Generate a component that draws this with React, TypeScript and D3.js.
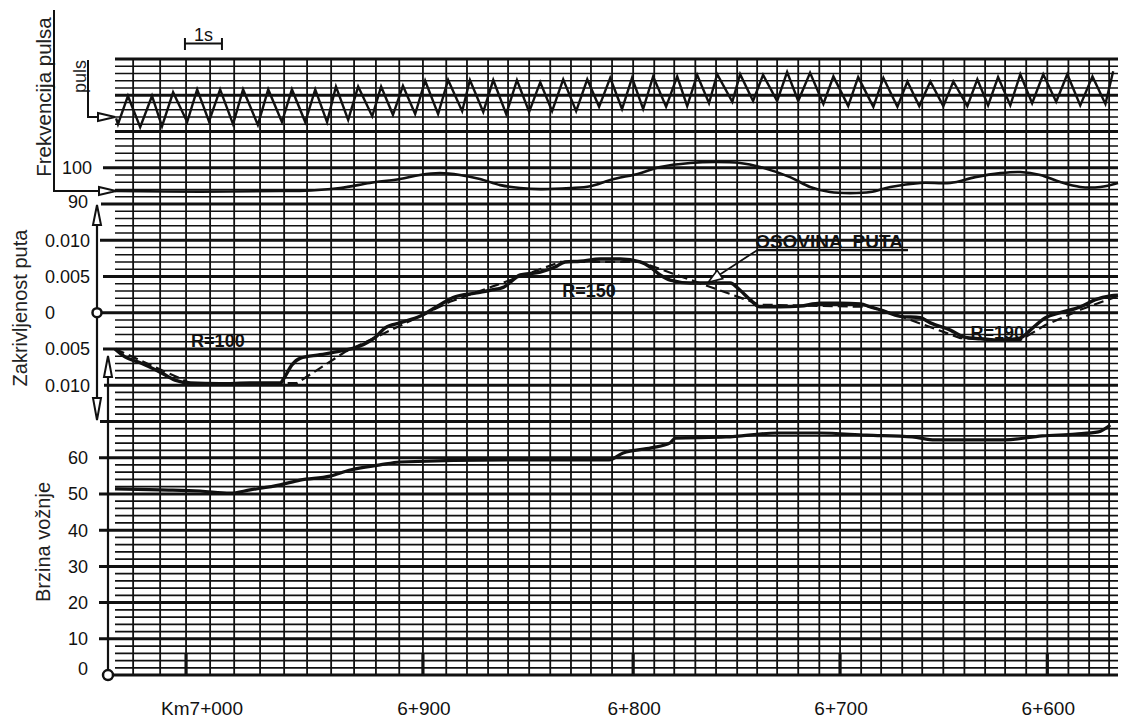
import React from 'react';
import * as d3 from 'd3';

// time (s) at which each 10 m distance mark was passed
const markTimes = [0.49, 1.22, 1.92, 2.57, 3.22, 3.92, 4.57, 5.19, 5.84, 6.46, 7.05, 7.68, 8.32, 8.95, 9.51, 10.08, 10.62, 11.19, 11.76, 12.32, 12.86, 13.43, 14.0, 14.57, 15.11, 15.68, 16.24, 16.81, 17.35, 17.89, 18.46, 19.03, 19.59, 20.16, 20.7, 21.27, 21.81, 22.38, 22.95, 23.51, 24.05, 24.62, 25.19, 25.76, 26.32, 26.86];
const kmLabels = ['Km7+000', '6+900', '6+800', '6+700', '6+600'];
const kmMarkIndex = [2, 12, 22, 32, 42];

// pulse trace (arbitrary deflection units)
const pulseT = [0.03, 0.08, 0.35, 0.68, 1.0, 1.27, 1.57, 1.95, 2.22, 2.54, 2.84, 3.19, 3.46, 3.86, 4.14, 4.51, 4.78, 5.14, 5.41, 5.73, 5.97, 6.3, 6.57, 6.95, 7.19, 7.51, 7.78, 8.11, 8.38, 8.73, 9.0, 9.38, 9.59, 9.95, 10.22, 10.57, 10.86, 11.19, 11.49, 11.81, 12.11, 12.46, 12.76, 13.08, 13.38, 13.7, 13.97, 14.27, 14.54, 14.89, 15.19, 15.46, 15.73, 16.05, 16.27, 16.68, 16.89, 17.24, 17.51, 17.89, 18.16, 18.46, 18.78, 19.14, 19.41, 19.81, 20.08, 20.49, 20.76, 21.14, 21.41, 21.73, 22.03, 22.38, 22.65, 23.03, 23.3, 23.59, 23.86, 24.19, 24.46, 24.78, 25.08, 25.43, 25.73, 26.08, 26.41, 26.76, 26.97];
const pulseV = [1.8, 1.0, 4.9, 0.6, 4.9, 0.7, 5.4, 1.3, 5.8, 1.4, 5.8, 1.0, 5.8, 0.9, 5.8, 1.3, 5.8, 1.3, 5.8, 1.3, 6.2, 1.6, 6.2, 2.1, 6.2, 2.3, 6.3, 2.4, 7.0, 2.4, 7.1, 2.8, 7.1, 2.7, 7.1, 2.4, 7.1, 2.7, 6.8, 2.8, 7.2, 2.8, 7.2, 3.4, 7.4, 3.1, 7.4, 3.1, 7.6, 3.4, 7.6, 3.5, 7.8, 3.9, 7.9, 4.1, 7.9, 4.2, 7.8, 4.2, 8.2, 4.2, 8.1, 3.8, 7.6, 3.5, 7.5, 3.4, 7.4, 3.4, 6.9, 3.5, 6.9, 3.5, 6.9, 3.5, 7.2, 3.6, 7.5, 3.6, 7.9, 3.9, 7.9, 4.1, 7.9, 3.6, 7.6, 3.8, 8.3];

// heart rate (beats/min)
const hrT = [0, 2.3, 4.46, 5.0, 6.08, 6.89, 7.7, 8.24, 8.78, 9.32, 9.86, 10.41, 10.95, 11.49, 12.3, 12.84, 13.38, 14.19, 14.73, 15.54, 16.22, 16.89, 17.43, 18.24, 18.78, 19.32, 19.86, 20.41, 20.95, 21.76, 22.57, 23.24, 23.92, 24.46, 25.0, 25.54, 26.08, 26.62, 27.1];
const hrV = [93.6, 93.4, 93.6, 93.6, 94.4, 95.8, 96.9, 98.0, 98.5, 98.0, 96.9, 95.2, 94.4, 94.1, 94.4, 94.9, 96.6, 98.5, 100.2, 101.3, 101.6, 101.3, 100.2, 97.4, 94.7, 93.3, 93.0, 93.3, 94.7, 95.8, 95.8, 97.4, 98.5, 98.8, 98.0, 96.05, 94.7, 94.7, 95.8];

// measured road curvature (1/m)
const curvMeasT = [0, 0.27, 0.68, 1.22, 1.62, 2.03, 2.84, 3.65, 4.46, 4.57, 4.78, 5.0, 5.54, 6.08, 6.62, 7.03, 7.3, 7.7, 8.24, 8.78, 9.19, 9.73, 10.14, 10.49, 10.95, 11.49, 11.89, 12.16, 12.57, 13.11, 13.65, 14.19, 14.46, 14.73, 15.0, 15.54, 16.08, 16.62, 16.89, 17.16, 17.43, 17.97, 18.51, 19.05, 19.59, 20.14, 20.41, 20.68, 21.22, 21.76, 22.03, 22.57, 22.97, 23.38, 23.92, 24.46, 24.73, 25.14, 25.54, 26.08, 26.49, 26.89, 27.1];
const curvMeasV = [-0.005, -0.0061, -0.0069, -0.0082, -0.0093, -0.0097, -0.0098, -0.0097, -0.0097, -0.009, -0.0072, -0.0063, -0.0058, -0.0053, -0.0046, -0.0034, -0.0021, -0.0014, -0.0005, 0.0011, 0.0022, 0.0027, 0.0031, 0.0035, 0.0052, 0.0056, 0.0063, 0.007, 0.0071, 0.0074, 0.0074, 0.007, 0.0063, 0.0052, 0.0045, 0.0041, 0.0041, 0.0041, 0.0031, 0.0018, 0.0008, 0.0008, 0.0009, 0.0013, 0.0013, 0.0012, 0.0008, 0.0004, -0.0005, -0.0007, -0.0014, -0.0024, -0.0034, -0.0036, -0.0038, -0.0035, -0.0024, -0.0007, 0.0, 0.0008, 0.0018, 0.0023, 0.0024];

// design curvature of the road axis (OSOVINA PUTA)
const curvAxisT = [0, 2.03, 4.92, 6.22, 7.7, 9.05, 10.41, 12.03, 14.19, 17.43, 20.41, 21.22, 22.84, 24.46, 25.14, 26.08, 27.1];
const curvAxisV = [-0.005, -0.0097, -0.0097, -0.0054, -0.0018, 0.0015, 0.004, 0.007, 0.007, 0.0011, 0.0008, -0.0005, -0.0035, -0.0038, -0.0017, 0.0004, 0.0023];

// driving speed (km/h)
const speedT = [0, 1.22, 2.3, 3.11, 3.65, 4.46, 5.0, 5.81, 6.35, 7.16, 7.7, 10.59, 13.35, 13.73, 14.49, 15.0, 15.14, 16.51, 17.89, 19.03, 20.3, 21.54, 22.16, 24.05, 25.05, 25.95, 26.57, 26.89];
const speedV = [51.4, 51.1, 50.8, 50.2, 51.1, 52.5, 53.8, 54.9, 56.6, 58.0, 58.8, 59.4, 59.4, 61.3, 62.7, 64.1, 65.4, 65.7, 66.8, 66.8, 66.2, 65.7, 64.9, 64.9, 66.0, 66.5, 67.1, 69.0];

const hrTicks = [100, 90];
const curvTicks = [0.01, 0.005, 0, -0.005, -0.01];
const curvTickLabels = ['0.010', '0.005', '0', '0.005', '0.010'];
const speedTicks = [60, 50, 40, 30, 20, 10, 0];

const curveNotes = [
  { text: 'R=100', t: 2.78, c: -0.0038 },
  { text: 'R=150', t: 12.81, c: 0.0031 },
  { text: 'R=190', t: 23.84, c: -0.0027 },
];

const FONT = '"Liberation Sans", Arial, Helvetica, sans-serif';
const INK = '#111';

export default function App() {
  const W = 1130;
  const H = 722;
  const x = d3.scaleLinear().domain([0, 27.1]).range([115, 1118]);
  const gy = d3.scaleLinear().domain([0, 85]).range([59, 675.1]);
  const pulseY = d3.scaleLinear().domain([0, 10]).range([gy(10), gy(0)]);
  const hrY = d3.scaleLinear().domain([90, 100]).range([gy(20), gy(15)]);
  const cY = d3.scaleLinear().domain([-0.01, 0.01]).range([gy(45), gy(25)]);
  const sY = d3.scaleLinear().domain([0, 70]).range([gy(85), gy(50)]);

  const leftExt: Record<number, number> = { 15: 103, 20: 101, 25: 100, 30: 103, 35: 97, 40: 103, 45: 104, 50: 100, 55: 99, 60: 99, 65: 99, 70: 99, 75: 99, 80: 99, 85: 108 };

  const pulsePath = d3.line<number>().x((_, i) => x(pulseT[i])).y((v) => pulseY(v))(pulseV) || '';
  const hrPath = d3.line<number>().x((_, i) => x(hrT[i])).y((v) => hrY(v)).curve(d3.curveCatmullRom)(hrV) || '';
  const cMeasPath = d3.line<number>().x((_, i) => x(curvMeasT[i])).y((v) => cY(v)).curve(d3.curveMonotoneX)(curvMeasV) || '';
  const cAxisPath = d3.line<number>().x((_, i) => x(curvAxisT[i])).y((v) => cY(v))(curvAxisV) || '';
  const speedPath = d3.line<number>().x((_, i) => x(speedT[i])).y((v) => sY(v)).curve(d3.curveMonotoneX)(speedV) || '';

  // OSOVINA PUTA leader
  const lx1 = x(17.35), ly1 = cY(0.0087);
  const lx2 = x(16.03), ly2 = cY(0.0042);
  const ang = Math.atan2(ly2 - ly1, lx2 - lx1);
  const ah = 14, aw = 5;
  const bx = lx2 - ah * Math.cos(ang), by = ly2 - ah * Math.sin(ang);
  const arrowPts = `${lx2},${ly2} ${bx + aw * Math.sin(ang)},${by - aw * Math.cos(ang)} ${bx - aw * Math.sin(ang)},${by + aw * Math.cos(ang)}`;

  const sbStart = x(1.89), sbEnd = x(2.89);

  return (
    <svg width={W} height={H} style={{ position: 'absolute', left: 0, top: 0, background: '#fff' }} fontFamily={FONT}>
      <rect width={W} height={H} fill="#fff" />
      {/* horizontal grid */}
      {d3.range(0, 86).map((i) => {
        const major = i % 5 === 0;
        return (
          <line key={'h' + i} x1={leftExt[i] ?? 115} x2={1118} y1={gy(i)} y2={gy(i)} stroke={INK} strokeWidth={major ? 3 : 1.6} />
        );
      })}
      {/* vertical distance grid */}
      {markTimes.map((t, i) => (
        <line key={'v' + i} x1={x(t)} x2={x(t)} y1={gy(0)} y2={gy(85)} stroke={INK} strokeWidth={1.8} />
      ))}
      {kmMarkIndex.map((mi, i) => (
        <line key={'k' + i} x1={x(markTimes[mi])} x2={x(markTimes[mi])} y1={653} y2={gy(85)} stroke={INK} strokeWidth={3.2} />
      ))}
      {kmLabels.map((lab, i) => (
        <text key={'kl' + i} x={x(markTimes[kmMarkIndex[i]]) + (i === 0 ? 16 : 1)} y={715} textAnchor="middle" fontSize={19} fill={INK}>{lab}</text>
      ))}

      {/* tick labels */}
      {hrTicks.map((v) => (
        <text key={'hr' + v} x={v === 100 ? 92 : 88} y={hrY(v) + (v === 90 ? 4.5 : 6.5)} textAnchor="end" fontSize={18} fill={INK}>{v}</text>
      ))}
      {curvTicks.map((v, i) => (
        <text key={'c' + i} x={45} y={cY(v) + 6.5} fontSize={18} fill={INK}>{curvTickLabels[i]}</text>
      ))}
      {speedTicks.map((v) => (
        <text key={'s' + v} x={88} y={sY(v) + (v === 0 ? 0 : 6.5)} textAnchor="end" fontSize={18} fill={INK}>{v}</text>
      ))}

      {/* axis titles */}
      <text transform="translate(51,97) rotate(-90)" textAnchor="middle" fontSize={20.5} fill="#222">Frekvencija pulsa</text>
      <text transform="translate(86,76.5) rotate(-90)" textAnchor="middle" fontSize={18} fill="#222">puls</text>
      <text transform="translate(27,308) rotate(-90)" textAnchor="middle" fontSize={20} fill="#222">Zakrivljenost puta</text>
      <text transform="translate(50,542) rotate(-90)" textAnchor="middle" fontSize={20} fill="#222">Brzina vožnje</text>

      {/* pulse indicator lines and arrows */}
      <path d={`M54,10 V${hrY(93.6)} H99`} fill="none" stroke={INK} strokeWidth={2} />
      <polygon points={`99,${hrY(93.6) - 4} 116,${hrY(93.6)} 99,${hrY(93.6) + 4}`} fill="#fff" stroke={INK} strokeWidth={2} />
      <path d={`M88,60 V117 H98`} fill="none" stroke={INK} strokeWidth={2} />
      <polygon points="98,113 115,117 98,121" fill="#fff" stroke={INK} strokeWidth={2} />

      {/* 1s scale bar */}
      <line x1={sbStart} x2={sbEnd} y1={43.5} y2={43.5} stroke={INK} strokeWidth={2} />
      <line x1={sbStart} x2={sbStart} y1={38} y2={50} stroke={INK} strokeWidth={2} />
      <line x1={sbEnd} x2={sbEnd} y1={38} y2={50} stroke={INK} strokeWidth={2} />
      <text x={(sbStart + sbEnd) / 2} y={40.5} textAnchor="middle" fontSize={18} fill={INK}>1s</text>

      {/* curvature axis */}
      <line x1={97} x2={97} y1={224} y2={399} stroke={INK} strokeWidth={2.2} />
      <polygon points="93,225 97,205 101,225" fill="#fff" stroke={INK} strokeWidth={2} />
      <polygon points="93,398 97,420 101,398" fill="#fff" stroke={INK} strokeWidth={2} />
      <circle cx={97} cy={cY(0)} r={4.5} fill="#fff" stroke={INK} strokeWidth={2.5} />

      {/* speed axis */}
      <line x1={108} x2={108} y1={sY(0)} y2={376} stroke={INK} strokeWidth={2.2} />
      <polygon points="104,377 108,356 112,377" fill="#fff" stroke={INK} strokeWidth={2} />
      <circle cx={108} cy={sY(0)} r={5} fill="#fff" stroke={INK} strokeWidth={2.5} />

      {/* data traces */}
      <path d={pulsePath} fill="none" stroke={INK} strokeWidth={2.4} strokeLinejoin="miter" />
      <path d={hrPath} fill="none" stroke={INK} strokeWidth={2.6} />
      <path d={cAxisPath} fill="none" stroke={INK} strokeWidth={2.2} strokeDasharray="10,5" />
      <path d={cMeasPath} fill="none" stroke={INK} strokeWidth={3.4} />
      <path d={speedPath} fill="none" stroke={INK} strokeWidth={3.2} />

      {/* annotations */}
      {curveNotes.map((n) => (
        <text key={n.text} x={x(n.t)} y={cY(n.c) + 6.5} textAnchor="middle" fontSize={18} fontWeight="bold" fill={INK}>{n.text}</text>
      ))}
      <text x={lx1 - 2} y={ly1 - 2} fontSize={19} fontWeight="bold" fill={INK} style={{ whiteSpace: 'pre' }}>{'OSOVINA  PUTA'}</text>
      <line x1={lx1} x2={908} y1={ly1 + 0.5} y2={ly1 + 0.5} stroke={INK} strokeWidth={2.2} />
      <line x1={lx1} y1={ly1 + 0.5} x2={bx} y2={by} stroke={INK} strokeWidth={1.8} />
      <polygon points={arrowPts} fill="#fff" stroke={INK} strokeWidth={1.6} />
    </svg>
  );
}
